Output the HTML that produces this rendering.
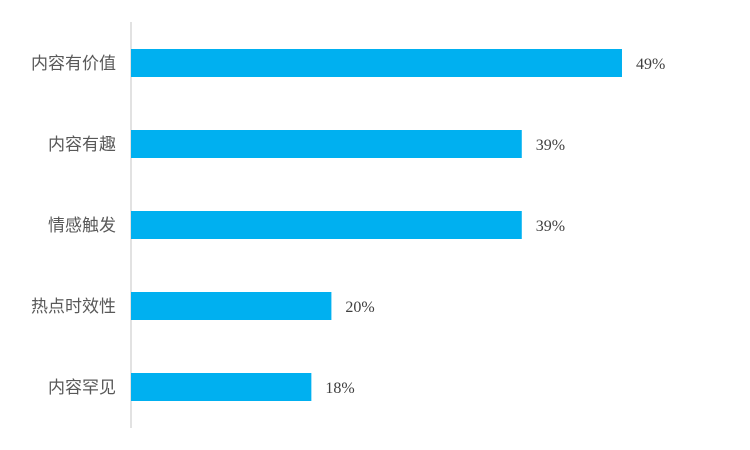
<!DOCTYPE html>
<html><head><meta charset="utf-8"><style>
html,body{margin:0;padding:0;background:#fff;width:750px;height:450px;overflow:hidden}
</style></head><body>
<svg width="750" height="450" xmlns="http://www.w3.org/2000/svg">
<line x1="131" y1="22" x2="131" y2="428" stroke="#d9d9d9" stroke-width="1.5"/>
<g id="bars"></g>
</svg>
<script>
const categories = ["内容有价值","内容有趣","情感触发","热点时效性","内容罕见"];
const values = [49,39,39,20,18];
const valueLabels = ["49%","39%","39%","20%","18%"];
const x0 = 131, pxPerUnit = 10.02;
const xScale = v => x0 + v * pxPerUnit;
const bandTop = 22, band = 81, barH = 28, barOffset = 27;
const yScale = i => bandTop + i * band + barOffset;
const g = document.getElementById('bars');
const NS = "http://www.w3.org/2000/svg";
categories.forEach((c,i)=>{
  const y = yScale(i);
  const r = document.createElementNS(NS,'rect');
  r.setAttribute('x', x0);
  r.setAttribute('y', y);
  r.setAttribute('width', xScale(values[i]) - x0);
  r.setAttribute('height', barH);
  r.setAttribute('fill', '#00b0f0');
  
  
  g.appendChild(r);
  const t = document.createElementNS(NS,'text');
  t.setAttribute('x', 116);
  t.setAttribute('y', y + barH/2 + 6);
  t.setAttribute('text-anchor', 'end');
  t.setAttribute('font-family', '"Liberation Sans","Noto Sans CJK SC",sans-serif');
  t.setAttribute('font-size', '17');
  t.setAttribute('fill', '#595959');
  t.textContent = c;
  
  
  g.appendChild(t);
  const v = document.createElementNS(NS,'text');
  v.setAttribute('x', xScale(values[i]) + 14);
  v.setAttribute('y', y + barH/2 + 6);
  v.setAttribute('font-family', '"Liberation Serif",serif');
  v.setAttribute('font-size', '16');
  v.setAttribute('fill', '#404040');
  v.textContent = valueLabels[i];
  
  
  g.appendChild(v);
});
</script>
</body></html>
